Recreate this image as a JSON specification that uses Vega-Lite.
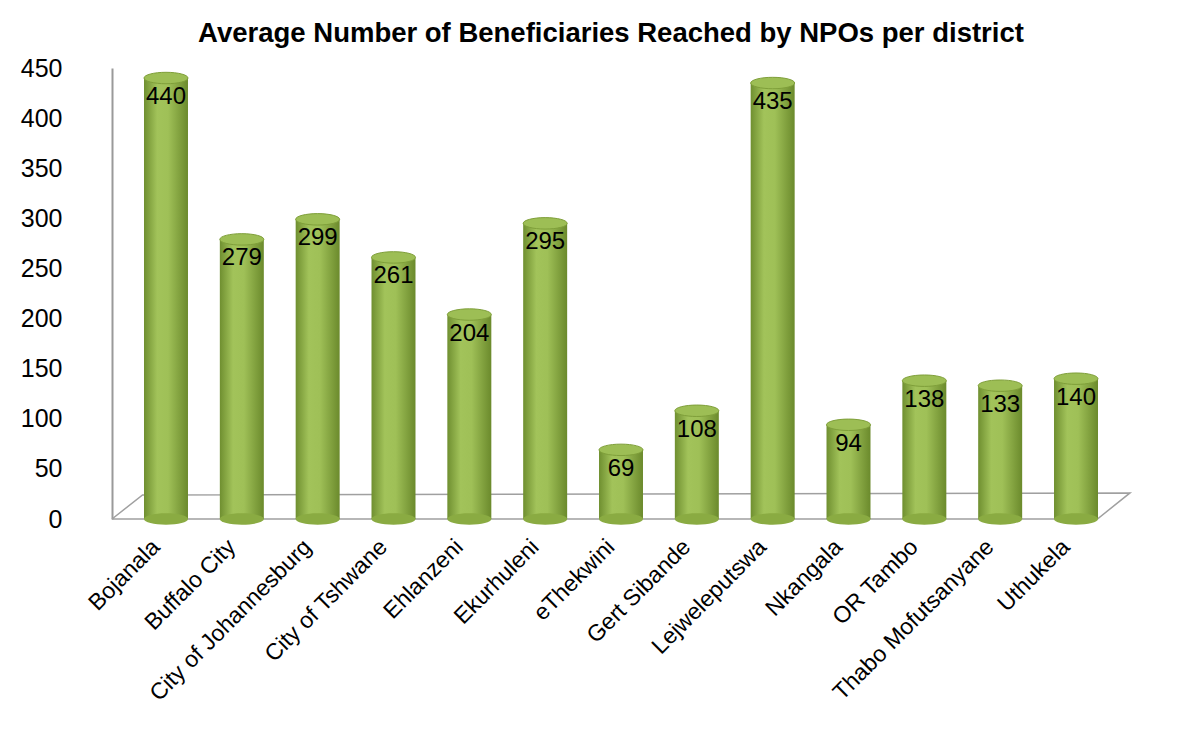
{
  "$schema": "https://vega.github.io/schema/vega-lite/v6.json",
  "width": 1018,
  "height": 451,
  "autosize": {"type": "none"},
  "padding": {"left": 112, "top": 68, "right": 56, "bottom": 225},
  "background": "white",
  "config": {"view": {"stroke": null}, "font": "Liberation Sans"},
  "title": {
    "text": "Average Number of Beneficiaries Reached by NPOs per district",
    "font": "Liberation Sans",
    "fontSize": 27.5,
    "fontWeight": "bold",
    "color": "#000000",
    "anchor": "middle",
    "offset": 9,
    "dx": -10
  },
  "datasets": {
    "bars": [
      {"district": "Bojanala", "value": 440},
      {"district": "Buffalo City", "value": 279},
      {"district": "City of Johannesburg", "value": 299},
      {"district": "City of Tshwane", "value": 261},
      {"district": "Ehlanzeni", "value": 204},
      {"district": "Ekurhuleni", "value": 295},
      {"district": "eThekwini", "value": 69},
      {"district": "Gert Sibande", "value": 108},
      {"district": "Lejweleputswa", "value": 435},
      {"district": "Nkangala", "value": 94},
      {"district": "OR Tambo", "value": 138},
      {"district": "Thabo Mofutsanyane", "value": 133},
      {"district": "Uthukela", "value": 140}
    ],
    "floor": [
      {"fx": 0, "fy": 0, "ord": 1},
      {"fx": 0.968, "fy": 0, "ord": 2},
      {"fx": 1, "fy": 26, "ord": 3},
      {"fx": 0.03, "fy": 24, "ord": 4},
      {"fx": 0, "fy": 0, "ord": 5}
    ]
  },
  "layer": [
    {
      "data": {"name": "floor"},
      "mark": {"type": "line", "color": "#a0a0a0", "strokeWidth": 1.5},
      "encoding": {
        "x": {"field": "fx", "type": "quantitative", "scale": {"domain": [0, 1], "nice": false}, "axis": null},
        "y": {
          "field": "fy",
          "type": "quantitative",
          "scale": {"domain": [0, 450], "nice": false},
          "axis": {
            "title": null,
            "values": [0, 50, 100, 150, 200, 250, 300, 350, 400, 450],
            "grid": false,
            "ticks": false,
            "domainColor": "#9a9a9a",
            "domainWidth": 2,
            "labelFontSize": 25,
            "labelColor": "#000000",
            "labelPadding": 50,
            "labelFont": "Liberation Sans"
          }
        },
        "order": {"field": "ord"}
      }
    },
    {
      "data": {"name": "bars"},
      "encoding": {
        "x": {
          "field": "district",
          "type": "nominal",
          "sort": null,
          "scale": {"paddingInner": 0.42, "paddingOuter": 0.422},
          "axis": {
            "title": null,
            "domain": false,
            "ticks": false,
            "labelAngle": -45,
            "labelAlign": "right",
            "labelBaseline": "middle",
            "labelFontSize": 23,
            "labelColor": "#000000",
            "labelPadding": 24,
            "labelOffset": -10,
            "labelLimit": 0,
            "labelFont": "Liberation Sans"
          }
        }
      },
      "layer": [
        {
          "mark": {
            "type": "bar",
            "fill": {
              "x1": 0, "y1": 0, "x2": 1, "y2": 0,
              "gradient": "linear",
              "stops": [
                {"offset": 0, "color": "#6f8f30"},
                {"offset": 0.3, "color": "#a2c35a"},
                {"offset": 0.55, "color": "#9fc057"},
                {"offset": 1, "color": "#6b8a2c"}
              ]
            }
          },
          "encoding": {
            "y": {"field": "value", "type": "quantitative"}
          }
        },
        {
          "mark": {
            "type": "point",
            "shape": "M-1,0A1,0.26,0,1,1,1,0A1,0.26,0,1,1,-1,0Z",
            "size": 1936,
            "filled": true,
            "fill": "#8aab42",
            "strokeWidth": 0,
            "opacity": 1
          },
          "encoding": {"y": {"datum": 0, "type": "quantitative"}}
        },
        {
          "mark": {
            "type": "point",
            "shape": "M-1,0A1,0.26,0,1,1,1,0A1,0.26,0,1,1,-1,0Z",
            "size": 1936,
            "filled": true,
            "fill": "#9dbe55",
            "stroke": "#7f9f3a",
            "strokeWidth": 1,
            "opacity": 1
          },
          "encoding": {"y": {"field": "value", "type": "quantitative"}}
        },
        {
          "mark": {
            "type": "text",
            "fontSize": 24,
            "color": "#000000",
            "baseline": "middle",
            "align": "center",
            "dy": 19,
            "font": "Liberation Sans"
          },
          "encoding": {
            "y": {"field": "value", "type": "quantitative"},
            "text": {"field": "value", "type": "quantitative"}
          }
        }
      ]
    }
  ],
  "resolve": {"scale": {"x": "independent"}}
}
